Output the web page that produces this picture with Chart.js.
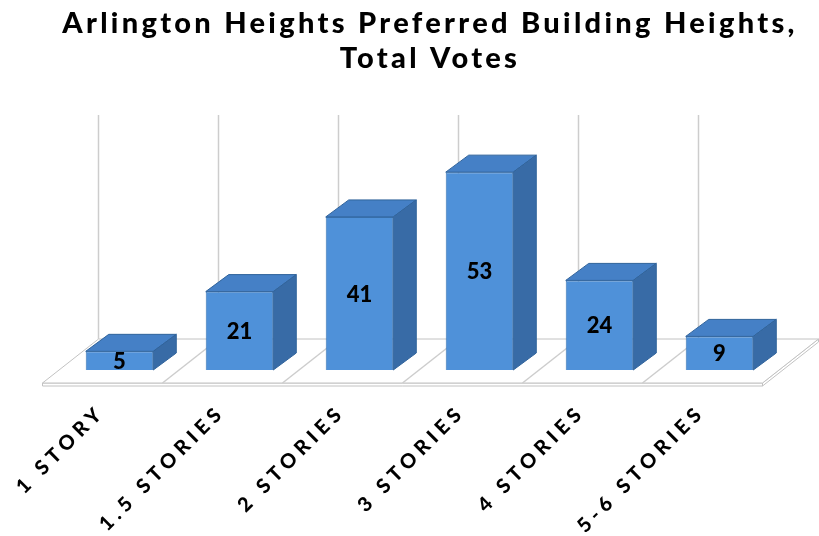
<!DOCTYPE html>
<html>
<head>
<meta charset="utf-8">
<script src="https://cdn.jsdelivr.net/npm/chart.js@4.4.1/dist/chart.umd.min.js"></script>
<style>
  html, body { margin: 0; padding: 0; background: #fff; }
  canvas { display: block; }
</style>
</head>
<body>
<canvas id="heights" width="819" height="536"></canvas>
<script>
// Preferred building heights, total votes per option
const categories = ['1 STORY', '1.5 STORIES', '2 STORIES', '3 STORIES', '4 STORIES', '5-6 STORIES'];
const votes = [5, 21, 41, 53, 24, 9];
const titleLines = ['Arlington Heights Preferred Building Heights,', 'Total Votes'];

const FACE = { front: '#4f91d9', top: '#4580c6', side: '#386ba6', edge: '#30639b' };
const BAR_DEPTH = { x: 23, y: -17 };   // bar extrusion
const WALL_BACK = { x: 39, y: -31 };   // back wall relative to bar front plane
const FLOOR_FRONT = { x: -17, y: 13 }; // front lip of the floor
const GRID = '#cdcdcd';

function poly(ctx, pts) {
  ctx.beginPath();
  ctx.moveTo(pts[0][0], pts[0][1]);
  for (let i = 1; i < pts.length; i++) ctx.lineTo(pts[i][0], pts[i][1]);
  ctx.closePath();
}

// floor slab + back wall gridlines, drawn under the bars
const floorPlugin = {
  id: 'floor3d',
  beforeDraw(chart) {
    chart.ctx.letterSpacing = '3.3px';
  },
  afterLayout(chart) {
    const sc = chart.scales.x;
    if (sc._spaced) return;
    const draw = sc.drawLabels;
    sc.drawLabels = function (area) {
      const c = this.ctx;
      const prev = c.letterSpacing;
      c.letterSpacing = '5px';
      draw.call(this, area);
      c.letterSpacing = prev;
    };
    sc._spaced = true;
  },
  beforeDatasetsDraw(chart) {
    const { ctx, chartArea } = chart;
    const { left, right, top, bottom } = chartArea;
    const xs = chart.scales.x;
    const step = xs.getPixelForValue(1) - xs.getPixelForValue(0);
    const bounds = categories.map((_, i) => xs.getPixelForValue(i) - step / 2);

    const fy = bottom + FLOOR_FRONT.y, by = bottom + WALL_BACK.y;
    const fl = left + FLOOR_FRONT.x, fr = right + FLOOR_FRONT.x;
    const bl = left + WALL_BACK.x, br = right + WALL_BACK.x;

    ctx.save();
    ctx.letterSpacing = '0px';
    ctx.lineWidth = 1;
    ctx.strokeStyle = '#c2c2c2';
    ctx.fillStyle = '#ffffff';
    // slab edge
    poly(ctx, [[fl, fy], [fr, fy], [fr, fy + 3], [fl, fy + 3]]);
    ctx.fill(); ctx.stroke();
    poly(ctx, [[fr, fy], [br, by], [br, by + 3], [fr, fy + 3]]);
    ctx.fill(); ctx.stroke();
    // floor top
    poly(ctx, [[fl, fy], [fr, fy], [br, by], [bl, by]]);
    ctx.fill(); ctx.stroke();

    ctx.strokeStyle = GRID;
    ctx.lineWidth = 1.5;
    bounds.forEach((b, k) => {
      if (k > 0) {
        ctx.beginPath();
        ctx.moveTo(b + FLOOR_FRONT.x, fy);
        ctx.lineTo(b + WALL_BACK.x, by);
        ctx.stroke();
      }
      ctx.beginPath();
      ctx.moveTo(b + WALL_BACK.x, by);
      ctx.lineTo(b + WALL_BACK.x, top + WALL_BACK.y);
      ctx.stroke();
    });
    ctx.restore();
  },
  // top and side faces of each bar, plus the value label
  afterDatasetsDraw(chart) {
    const { ctx } = chart;
    const meta = chart.getDatasetMeta(0);
    ctx.save();
    ctx.letterSpacing = '0px';
    ctx.lineWidth = 1;
    ctx.strokeStyle = FACE.edge;
    meta.data.forEach((bar, i) => {
      const { x, y, base, width } = bar.getProps(['x', 'y', 'base', 'width'], true);
      const x0 = x - width / 2, x1 = x + width / 2;
      const dx = BAR_DEPTH.x, dy = BAR_DEPTH.y;
      ctx.fillStyle = FACE.top;
      poly(ctx, [[x0, y], [x1, y], [x1 + dx, y + dy], [x0 + dx, y + dy]]);
      ctx.fill(); ctx.stroke();
      ctx.fillStyle = FACE.side;
      poly(ctx, [[x1, y], [x1, base], [x1 + dx, base + dy], [x1 + dx, y + dy]]);
      ctx.fill(); ctx.stroke();

      ctx.fillStyle = '#000';
      ctx.font = '900 22px Lato';
      ctx.textAlign = 'center';
      ctx.textBaseline = 'middle';
      ctx.fillText(String(votes[i]), x, (y + base) / 2 + 1);
    });
    ctx.restore();
  }
};

new Chart(document.getElementById('heights'), {
  type: 'bar',
  data: {
    labels: categories,
    datasets: [{
      data: votes,
      backgroundColor: FACE.front,
      borderColor: '#3d76b4',
      borderWidth: 1,
      barPercentage: 0.563,
      categoryPercentage: 1
    }]
  },
  options: {
    responsive: false,
    animation: false,
    devicePixelRatio: 1,
    layout: { padding: { left: 59.5, right: 18.5, top: 0, bottom: 0 } },
    plugins: {
      legend: { display: false },
      tooltip: { enabled: false },
      title: {
        display: true,
        text: titleLines,
        color: '#000',
        font: { family: 'Lato', size: 29, weight: '900', lineHeight: 1.207 },
        padding: { top: 6.3, bottom: 69.7 }
      }
    },
    scales: {
      x: {
        grid: { display: false, drawTicks: false },
        border: { display: false },
        ticks: {
          color: '#000',
          font: { family: 'Lato', size: 20, weight: '900' },
          minRotation: 45,
          maxRotation: 45,
          autoSkip: false,
          padding: 30,
          labelOffset: -18
        },
        afterFit(scale) { scale.height = 166; }
      },
      y: {
        display: false,
        min: 0,
        max: 60
      },
      // empty right-hand spacer so the floor's back corner fits
      yPad: {
        position: 'right',
        display: true,
        grid: { display: false, drawTicks: false },
        border: { display: false },
        ticks: { display: false },
        afterFit(scale) { scale.width = 21; }
      }
    }
  },
  plugins: [floorPlugin]
});
</script>
</body>
</html>
